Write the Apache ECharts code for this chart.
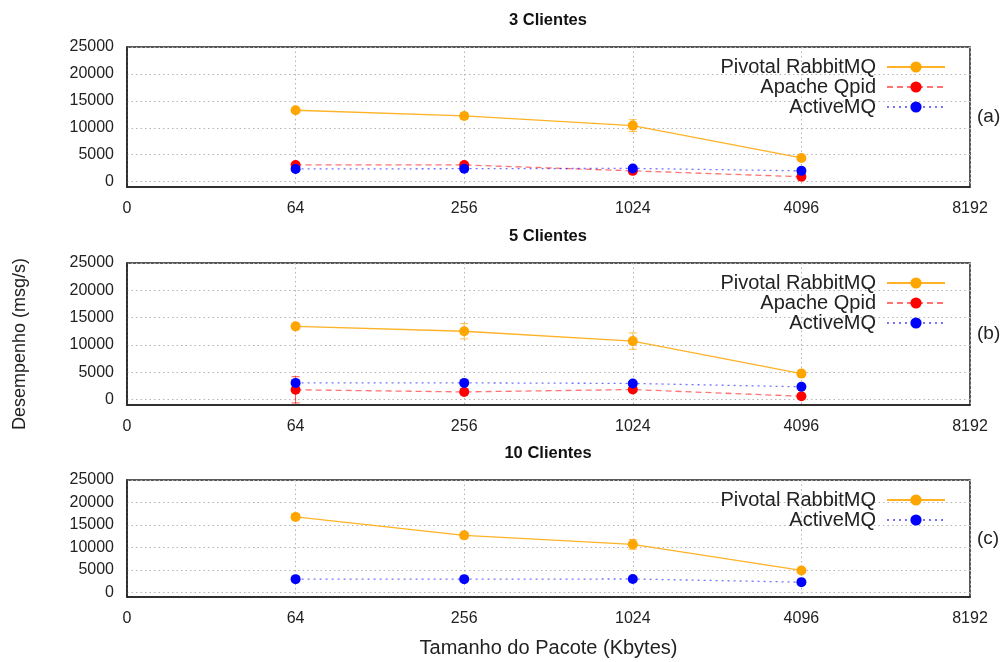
<!DOCTYPE html>
<html>
<head>
<meta charset="utf-8">
<script src="https://cdn.jsdelivr.net/npm/echarts@6/dist/echarts.min.js"></script>
<style>
  html, body { margin: 0; padding: 0; background: #fff; }
  #chart { width: 1004px; height: 662px; }
</style>
</head>
<body>
<div id="chart"></div>
<script>
// tick labels of the x axis (equally spaced categories)
const xTicks = ['0', '64', '256', '1024', '4096', '8192']
const sizes = ['64', '256', '1024', '4096']
const yTicks = [0, 5000, 10000, 15000, 20000, 25000]

const panelTitles = ['3 Clientes', '5 Clientes', '10 Clientes']
const panelTags = ['(a)', '(b)', '(c)']

// 3 clientes
const rabbit3 = [13250, 12200, 10400, 4400]
const rabbit3Err = [300, 600, 1100, 300]
const qpid3 = [3100, 3100, 2000, 900]
const qpid3Err = [200, 200, 300, 150]
const active3 = [2350, 2400, 2450, 2000]
const active3Err = [150, 150, 200, 150]

// 5 clientes
const rabbit5 = [13400, 12500, 10700, 4750]
const rabbit5Err = [400, 1400, 1500, 300]
const qpid5 = [1780, 1400, 1830, 600]
const qpid5Err = [2400, 300, 300, 150]
const active5 = [3050, 3050, 2950, 2330]
const active5Err = [200, 200, 200, 150]

// 10 clientes
const rabbit10 = [16800, 12700, 10700, 4900]
const rabbit10Err = [300, 600, 1100, 400]
const active10 = [2970, 2970, 3000, 2300]
const active10Err = [200, 200, 200, 200]

const RABBIT = 'Pivotal RabbitMQ'
const QPID = 'Apache Qpid'
const ACTIVE = 'ActiveMQ'

const styles = {
  [RABBIT]: { color: '#ffa500', type: 'solid', opacity: 0.85 },
  [QPID]: { color: '#ff0000', type: [6, 4], opacity: 0.55 },
  [ACTIVE]: { color: '#0000ff', type: [2, 4], opacity: 0.55 },
}

const FONT = '"Liberation Sans", Arial, sans-serif'

const grids = [
  { left: 127, right: 34, top: 47, height: 140 },
  { left: 127, right: 34, top: 263, height: 142 },
  { left: 127, right: 34, top: 480, height: 117 },
]

const panels = [
  [[RABBIT, rabbit3, rabbit3Err], [QPID, qpid3, qpid3Err], [ACTIVE, active3, active3Err]],
  [[RABBIT, rabbit5, rabbit5Err], [QPID, qpid5, qpid5Err], [ACTIVE, active5, active5Err]],
  [[RABBIT, rabbit10, rabbit10Err], [ACTIVE, active10, active10Err]],
]

const lineSeries = (name, values, idx) => {
  const s = styles[name]
  return {
    type: 'line',
    name,
    xAxisIndex: idx,
    yAxisIndex: idx,
    data: sizes.map((c, i) => [c, values[i]]),
    symbol: 'circle',
    symbolSize: 10,
    itemStyle: { color: s.color },
    lineStyle: { color: s.color, width: 1.3, type: s.type, opacity: s.opacity },
    emphasis: { disabled: true },
    animation: false,
    z: 3,
  }
}

const errorSeries = (name, values, errs, idx) => {
  const s = styles[name]
  return {
    type: 'custom',
    xAxisIndex: idx,
    yAxisIndex: idx,
    silent: true,
    animation: false,
    z: 2,
    data: sizes.map((c, i) => [c, values[i] - errs[i], values[i] + errs[i]]),
    renderItem: (params, api) => {
      const lo = api.coord([api.value(0), api.value(1)])
      const hi = api.coord([api.value(0), api.value(2)])
      const w = 4
      const st = { stroke: s.color, lineWidth: 1, opacity: 0.7 }
      return {
        type: 'group',
        children: [
          { type: 'line', shape: { x1: lo[0], y1: lo[1], x2: hi[0], y2: hi[1] }, style: st },
          { type: 'line', shape: { x1: lo[0] - w, y1: lo[1], x2: lo[0] + w, y2: lo[1] }, style: st },
          { type: 'line', shape: { x1: hi[0] - w, y1: hi[1], x2: hi[0] + w, y2: hi[1] }, style: st },
        ],
      }
    },
  }
}

const series = []
panels.forEach((list, idx) => {
  list.forEach(([name, values, errs]) => {
    series.push(errorSeries(name, values, errs, idx))
    series.push(lineSeries(name, values, idx))
  })
})

const dotted = { color: '#b5b5b5', width: 1, type: [1.5, 3] }

const option = {
  backgroundColor: '#fff',
  animation: false,
  textStyle: { fontFamily: FONT },
  title: panelTitles.map((text, i) => ({
    text,
    left: 543,
    top: [7, 223, 440][i],
    textAlign: 'center',
    textStyle: { fontFamily: FONT, fontSize: 16.5, fontWeight: 'bold', color: '#111' },
  })),
  legend: panels.map((list, i) => ({
    orient: 'vertical',
    right: 53,
    top: grids[i].top + 5,
    align: 'right',
    itemWidth: 58,
    itemHeight: 14,
    itemGap: 0,
    selectedMode: false,
    data: list.map((p) => p[0]),
    textStyle: { fontFamily: FONT, fontSize: 20, lineHeight: 19.5, color: '#222', padding: [0, 6, 0, 0] },
  })),
  grid: grids.map((g) => ({
    ...g,
    show: true,
    borderColor: '#222',
    borderWidth: 1.5,
    backgroundColor: '#fff',
  })),
  xAxis: grids.map((g, i) => ({
    type: 'category',
    gridIndex: i,
    data: xTicks,
    boundaryGap: false,
    axisLine: { onZero: false, lineStyle: { color: '#222', width: 1.5 } },
    axisTick: { show: false },
    axisLabel: { fontFamily: FONT, fontSize: 16, color: '#222', margin: 14 },
    splitLine: { show: true, lineStyle: dotted },
    name: i === 2 ? 'Tamanho do Pacote (Kbytes)' : '',
    nameLocation: 'middle',
    nameGap: 41,
    nameTextStyle: { fontFamily: FONT, fontSize: 20, color: '#222' },
  })),
  yAxis: grids.map((g, i) => ({
    type: 'value',
    gridIndex: i,
    min: -1000,
    max: 25000,
    axisLine: { show: true, lineStyle: { color: '#222', width: 1.5 } },
    axisTick: { show: false, customValues: yTicks },
    axisLabel: {
      fontFamily: FONT,
      fontSize: 16,
      color: '#222',
      margin: 13,
      customValues: yTicks,
      formatter: (v) => String(v),
    },
    splitLine: { show: true, lineStyle: dotted },
  })),
  graphic: [
    ...panelTags.map((text, i) => ({
      type: 'text',
      left: 977,
      top: [107, 324, 529][i],
      style: { text, fontFamily: FONT, fontSize: 19, fill: '#222' },
    })),
    {
      type: 'text',
      x: 20,
      y: 344,
      rotation: Math.PI / 2,
      style: {
        text: 'Desempenho (msg/s)',
        fontFamily: FONT,
        fontSize: 18,
        fill: '#222',
        align: 'center',
        verticalAlign: 'middle',
      },
    },
  ],
  series,
}

const myChart = echarts.init(document.getElementById('chart'))
myChart.setOption(option)
</script>
</body>
</html>
